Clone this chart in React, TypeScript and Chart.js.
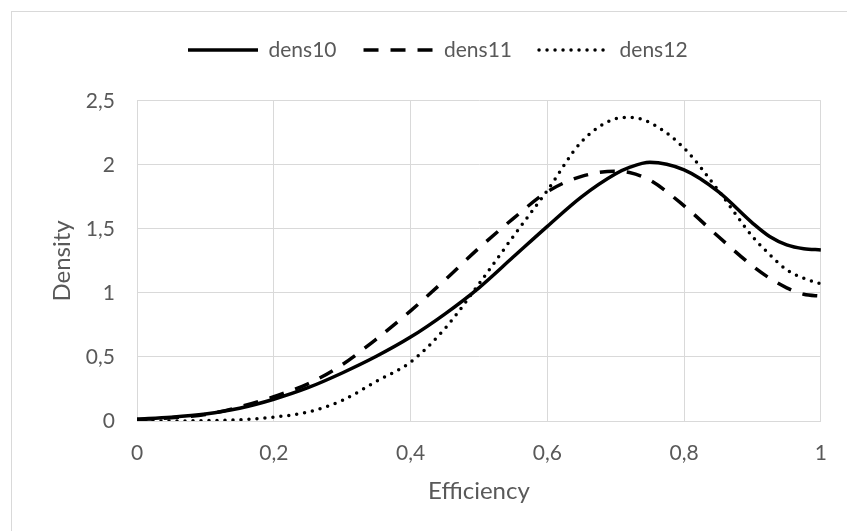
import React, { useEffect, useRef } from "react";
import { Chart, registerables } from "chart.js";

Chart.register(...registerables);

const efficiency = [0, 0.05, 0.1, 0.15, 0.2, 0.25, 0.3, 0.35, 0.4, 0.45, 0.5, 0.55, 0.6, 0.65, 0.7, 0.72, 0.75, 0.8, 0.85, 0.9, 0.925, 0.95, 0.975, 1];
const dens10 = [0.015, 0.03, 0.055, 0.1, 0.17, 0.26, 0.375, 0.505, 0.655, 0.835, 1.04, 1.28, 1.52, 1.75, 1.93, 1.98, 2.02, 1.96, 1.79, 1.545, 1.44, 1.375, 1.345, 1.336];
const dens11 = [0.01, 0.025, 0.05, 0.11, 0.19, 0.29, 0.44, 0.64, 0.86, 1.1, 1.35, 1.58, 1.79, 1.91, 1.95, 1.94, 1.88, 1.68, 1.44, 1.21, 1.115, 1.04, 0.99, 0.975];
const dens12 = [0, 0, 0.003, 0.01, 0.03, 0.07, 0.16, 0.31, 0.46, 0.72, 1.07, 1.44, 1.8, 2.18, 2.36, 2.37, 2.33, 2.13, 1.8, 1.44, 1.3, 1.18, 1.115, 1.07];
const seriesNames = ["dens10", "dens11", "dens12"];
const xTitle = "Efficiency";
const yTitle = "Density";

const FONT = "Lato";
const TEXT = "#595959";
const GRID = "#d9d9d9";
const LW = 3.5;

const fmt = (v: number) => String(Math.round(Number(v) * 10) / 10).replace(".", ",");

const legendShift = {
  id: "legendShift",
  afterLayout(chart: any) {
    const l = chart.legend;
    if (!l || !l.lineWidths) return;
    const pad = l.options.labels.padding;
    const curX = (l.left + pad + l.right - l.lineWidths[0]) / 2;
    const dx = 188 - curX;
    const curY = l.top + pad;
    const dy = 52 - 12.6 - curY;
    l.left += dx;
    l.right += dx;
    l.top += dy;
    l.bottom += dy;
  },
};

export default function App() {
  const ref = useRef<HTMLCanvasElement | null>(null);
  useEffect(() => {
    if (!ref.current) return;
    const pts = (ys: number[]) => efficiency.map((x, i) => ({ x, y: ys[i] }));
    const chart = new Chart(ref.current, {
      type: "line",
      data: {
        datasets: [
          { label: seriesNames[0], data: pts(dens10), borderColor: "#000", backgroundColor: "#000", borderWidth: LW, pointRadius: 0, cubicInterpolationMode: "monotone" },
          { label: seriesNames[1], data: pts(dens11), borderColor: "#000", backgroundColor: "#000", borderWidth: LW, borderDash: [15, 12], pointRadius: 0, cubicInterpolationMode: "monotone" },
          { label: seriesNames[2], data: pts(dens12), borderColor: "#000", backgroundColor: "#000", borderWidth: LW, borderDash: [0, 8], borderCapStyle: "round", pointRadius: 0, cubicInterpolationMode: "monotone" },
        ],
      },
      plugins: [legendShift],
      options: {
        animation: false,
        responsive: false,
        maintainAspectRatio: false,
        layout: { padding: { left: 0, right: 22, top: 42.8, bottom: 0 } },
        plugins: {
          tooltip: { enabled: false },
          legend: {
            position: "top",
            labels: {
              usePointStyle: true,
              pointStyle: "line",
              pointStyleWidth: 70,
              color: TEXT,
              font: { family: FONT, size: 21 },
              padding: 27,
              generateLabels: (c: any) => {
                const items = (Chart as any).defaults.plugins.legend.labels.generateLabels(c);
                items.forEach((it: any, i: number) => {
                  const ds: any = c.data.datasets[i];
                  it.lineDash = ds.borderDash || [];
                  it.lineCap = ds.borderCapStyle || "butt";
                  it.lineWidth = LW;
                  it.strokeStyle = "#000";
                  it.fillStyle = "#000";
                  it.pointStyle = "line";
                });
                return items;
              },
            },
          },
        },
        scales: {
          x: {
            type: "linear",
            min: 0,
            max: 1,
            ticks: { stepSize: 0.2, color: TEXT, font: { family: FONT, size: 21 }, padding: 20, callback: (v: any) => fmt(v), maxRotation: 0 },
            grid: { color: GRID, lineWidth: 1, drawTicks: false },
            border: { color: GRID },
            title: { display: true, text: xTitle, color: TEXT, font: { family: FONT, size: 24 }, padding: { top: 0, bottom: 25.6 } },
            afterFit: (s: any) => { s.height = 110; },
          },
          y: {
            type: "linear",
            min: 0,
            max: 2.5,
            ticks: { stepSize: 0.5, color: TEXT, font: { family: FONT, size: 21 }, padding: 22, callback: (v: any) => fmt(v) },
            grid: { color: GRID, lineWidth: 1, drawTicks: false },
            border: { color: GRID },
            title: { display: true, text: yTitle, color: TEXT, font: { family: FONT, size: 24 }, padding: { top: 47.6, bottom: 0 } },
            afterFit: (s: any) => { s.width = 137; },
          },
        },
      },
    } as any);
    return () => chart.destroy();
  }, []);
  return (
    <div style={{ position: "absolute", left: 0, top: 0, width: 847, height: 531, background: "#fff", overflow: "hidden" }}>
      <div style={{ position: "absolute", left: 11, top: 11, width: 900, height: 600, borderLeft: `1px solid ${GRID}`, borderTop: `1px solid ${GRID}` }} />
      <canvas ref={ref} width={847} height={531} style={{ position: "absolute", left: 0, top: 0 }} />
    </div>
  );
}
